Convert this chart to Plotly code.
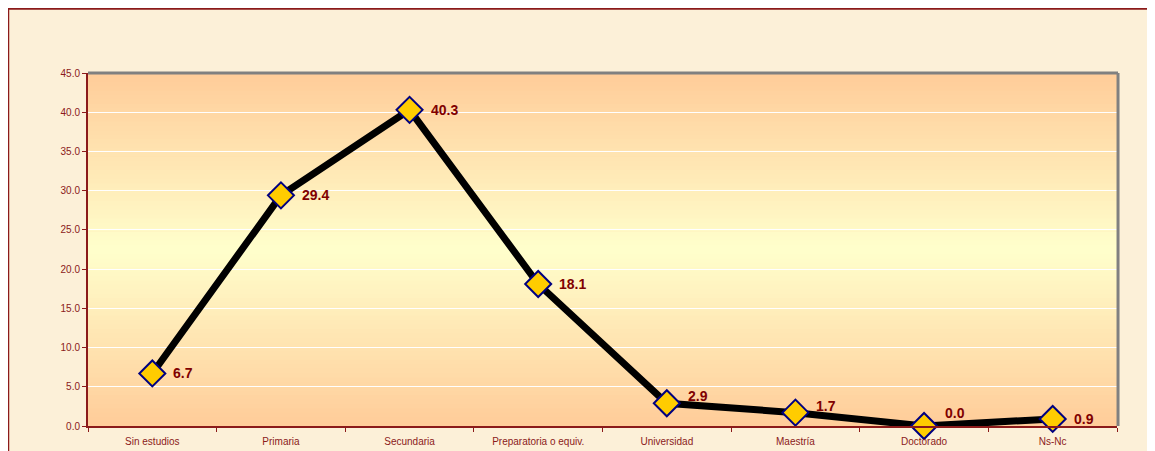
import plotly.graph_objects as go

# Data
categories = ["Sin estudios", "Primaria", "Secundaria", "Preparatoria o equiv.",
              "Universidad", "Maestría", "Doctorado", "Ns-Nc"]
values = [6.7, 29.4, 40.3, 18.1, 2.9, 1.7, 0.0, 0.9]
label_text = ["6.7", "29.4", "40.3", "18.1", "2.9", "1.7", "0.0", "0.9"]
y_ticks = [0, 5, 10, 15, 20, 25, 30, 35, 40, 45]

# vertical nudge of the data labels (pixels), like Excel keeps them inside the plot
label_shift = [0, 0, 0, 0, 7, 7, 13, 0]

DARK_RED = "#8B1A1A"
LABEL_RED = "#800000"

fig = go.Figure()

fig.add_trace(go.Scatter(
    x=categories,
    y=values,
    mode="lines+markers",
    line=dict(color="black", width=7),
    marker=dict(symbol="diamond", size=20, color="#FFCC00",
                line=dict(color="#000080", width=2)),
    cliponaxis=False,
    showlegend=False,
    hoverinfo="x+y",
))

for cat, val, txt, dy in zip(categories, values, label_text, label_shift):
    fig.add_annotation(
        x=cat, y=val, text=txt, showarrow=False,
        xanchor="left", yanchor="middle", xshift=19, yshift=dy,
        font=dict(family="Liberation Sans, Arial", size=14, color=LABEL_RED, weight="bold"),
    )

# background gradient of the plot area: peach -> pale yellow -> peach
def mix(c1, c2, t):
    return "#%02X%02X%02X" % tuple(round(a + (b - a) * t) for a, b in zip(c1, c2))

peach = (0xFF, 0xCC, 0x99)
pale = (0xFF, 0xFF, 0xCC)
n = 80
shapes = []
for i in range(n):
    y0 = i / n
    y1 = (i + 1) / n
    mid = (y0 + y1) / 2
    t = 1 - abs(mid - 0.5) * 2
    shapes.append(dict(type="rect", xref="x domain", yref="y domain",
                       x0=0, x1=1, y0=y0, y1=y1 + 0.002,
                       fillcolor=mix(peach, pale, t), line=dict(width=0),
                       layer="below"))

# gray border on top and right of plot area
shapes.append(dict(type="line", xref="x domain", yref="y domain", x0=0, x1=1.001, y0=1, y1=1,
                   line=dict(color="#808080", width=3), layer="above"))
shapes.append(dict(type="line", xref="x domain", yref="y domain", x0=1.001, x1=1.001, y0=0, y1=1,
                   line=dict(color="#808080", width=3), layer="above"))

# outer dark red frame (top and left visible)
shapes.append(dict(type="rect", xref="paper", yref="paper",
                   x0=-0.0775, x1=1.06, y0=-0.2, y1=1.182,
                   line=dict(color=DARK_RED, width=2), fillcolor="rgba(0,0,0,0)",
                   layer="below"))

fig.update_layout(
    width=1147,
    height=443,
    margin=dict(l=80, r=38, t=65, b=25),
    paper_bgcolor="#FCF0D8",
    plot_bgcolor="#FFCC99",
    shapes=shapes,
    font=dict(family="Liberation Sans, Arial", color=DARK_RED),
    xaxis=dict(
        type="category",
        range=[-0.5, 7.5],
        automargin=False,
        showgrid=False,
        showline=True,
        linecolor=DARK_RED,
        linewidth=2,
        ticks="outside",
        tickson="boundaries",
        ticklen=4,
        tickcolor=DARK_RED,
        tickfont=dict(size=10, color=DARK_RED),
        ticklabelstandoff=5,
        fixedrange=True,
    ),
    yaxis=dict(
        range=[0, 45],
        automargin=False,
        tickvals=y_ticks,
        tickformat=".1f",
        showgrid=True,
        gridcolor="white",
        gridwidth=1,
        zeroline=False,
        showline=True,
        linecolor=DARK_RED,
        linewidth=2,
        ticks="outside",
        ticklen=4,
        tickcolor=DARK_RED,
        tickfont=dict(size=10, color=DARK_RED),
        fixedrange=True,
    ),
)

fig.write_html("out.html")
